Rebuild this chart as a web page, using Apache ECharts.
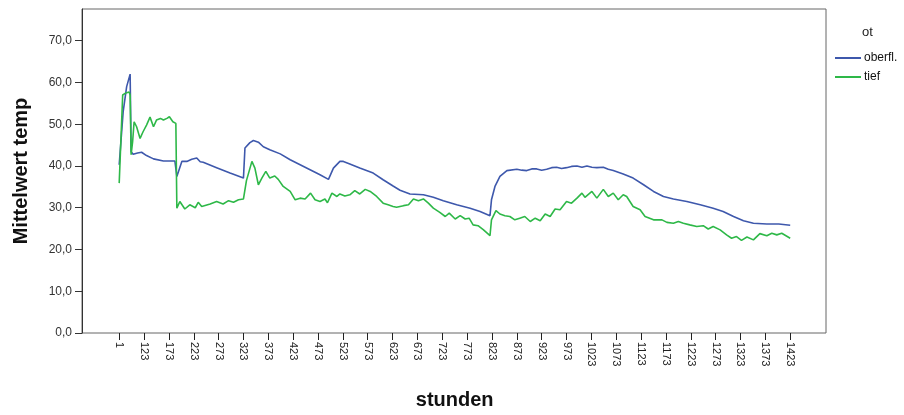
<!DOCTYPE html>
<html>
<head>
<meta charset="utf-8">
<script src="https://cdn.jsdelivr.net/npm/echarts@6/dist/echarts.min.js"></script>
<style>
html,body{margin:0;padding:0;background:#fff;}
#chart{width:904px;height:415px;}
</style>
</head>
<body>
<div id="chart"></div>
<script>
// category hours present in the data (1, then 74..1423)
const firstHour = 1;
const hourStart = 74;
const hourEnd = 1423;
const categories = [String(firstHour)];
for (let h = hourStart; h <= hourEnd; h++) categories.push(String(h));

const seriesNames = ['oberfl.', 'tief'];
const legendTitle = 'ot';
const yTitle = 'Mittelwert temp';
const xTitle = 'stunden';

const blueHours = [1,81,88,95,97,101,110,118,128,142,162,185,189,199,209,219,229,236,242,269,296,323,326,336,343,353,363,376,397,417,437,457,477,494,504,517,524,537,557,584,604,624,638,658,685,705,725,752,779,799,819,822,829,839,853,873,883,893,903,913,923,933,943,953,963,973,983,994,1004,1014,1024,1034,1047,1057,1067,1087,1107,1128,1148,1168,1188,1215,1242,1268,1288,1309,1329,1349,1376,1400,1423];
const blueValues = [40.3,53,59,62,43.4,42.8,43.1,43.3,42.5,41.7,41.2,41.2,37.5,41.1,41.1,41.6,41.9,41.0,40.9,39.6,38.3,37.1,44.3,45.6,46.1,45.7,44.6,43.9,42.9,41.5,40.3,39.1,37.9,36.8,39.5,41.1,41.1,40.5,39.5,38.3,36.7,35.2,34.2,33.3,33.1,32.5,31.7,30.7,29.9,29.1,28.1,31.9,35.1,37.5,38.9,39.2,39.0,38.9,39.3,39.3,39.0,39.2,39.6,39.7,39.4,39.6,39.9,40.0,39.7,40.0,39.7,39.6,39.7,39.2,38.9,38.1,37.1,35.5,33.9,32.7,32.1,31.5,30.7,29.9,29.1,27.9,26.9,26.3,26.1,26.1,25.8];

const greenHours = [1,80,85,93,95,97,100,103,108,115,121,128,135,142,148,156,162,169,174,181,187,189,195,205,215,226,232,239,256,269,282,293,303,313,323,326,329,340,346,353,360,368,376,386,393,403,417,427,437,447,458,467,477,487,492,501,511,517,527,537,547,557,568,578,591,604,614,624,631,645,655,665,675,685,695,705,718,729,737,749,759,769,777,785,795,806,819,822,831,839,849,859,869,879,889,900,910,920,930,940,950,960,973,983,994,1004,1010,1024,1034,1047,1057,1067,1077,1087,1094,1107,1121,1131,1148,1165,1175,1188,1198,1208,1221,1235,1248,1258,1268,1282,1295,1305,1315,1325,1336,1349,1362,1376,1386,1396,1406,1423];
const greenValues = [35.9,57.0,57.4,57.7,57.0,42.7,45.8,50.6,49.4,46.6,48.2,49.8,51.7,49.4,51.0,51.4,51.0,51.4,51.8,50.6,50.2,29.9,31.5,29.7,30.7,30.0,31.3,30.3,30.9,31.5,30.9,31.7,31.3,31.9,32.1,32.0,36.5,41.1,39.5,35.5,37.1,38.7,37.1,37.6,36.8,35.1,33.9,31.9,32.3,32.1,33.5,31.9,31.5,32.1,31.2,33.5,32.7,33.3,32.8,33.1,34.1,33.3,34.4,33.9,32.7,31.1,30.7,30.3,30.1,30.5,30.7,32.1,31.7,32.1,31.1,29.9,28.9,27.9,28.7,27.3,28.1,27.3,27.5,25.9,25.7,24.7,23.3,27.1,29.3,28.5,28.1,27.9,27.1,27.5,27.9,26.7,27.5,26.9,28.5,27.9,29.7,29.5,31.5,31.1,32.3,33.5,32.5,33.9,32.3,34.4,32.7,33.5,31.9,33.1,32.7,30.3,29.5,27.9,27.1,27.1,26.5,26.3,26.7,26.3,25.9,25.5,25.7,24.9,25.5,24.7,23.5,22.7,23.1,22.2,23.0,22.3,23.8,23.3,23.9,23.5,23.9,22.7];

function toPairs(hours, values) {
  return hours.map((h, i) => [categories.indexOf(String(h)), values[i]]);
}

const FONT = '"Liberation Sans", Arial, sans-serif';
const chart = echarts.init(document.getElementById('chart'), null, {renderer: 'canvas'});

chart.setOption({
  animation: false,
  backgroundColor: '#ffffff',
  title: {
    text: legendTitle,
    left: 857, top: 21,
    textStyle: {fontFamily: FONT, fontSize: 13, fontWeight: 'normal', color: '#222'}
  },
  legend: {
    orient: 'vertical',
    left: 830, top: 47,
    itemWidth: 26, itemHeight: 2, itemGap: 7,
    icon: 'rect',
    textStyle: {fontFamily: FONT, fontSize: 12, color: '#111', padding: [0,0,0,-2]},
    data: seriesNames
  },
  grid: [
    {left: 82, right: 78, top: 9, bottom: 82, show: true, borderColor: '#666', borderWidth: 1, backgroundColor: 'transparent'},
    {left: 119.2, right: 113.8, top: 9, bottom: 82}
  ],
  xAxis: [
    {gridIndex: 0, type: 'value', show: false},
    {
      gridIndex: 1, type: 'category', data: categories, boundaryGap: false,
      axisLine: {show: false},
      axisTick: {show: true, interval: 49, length: 7, lineStyle: {color: '#222'}},
      axisLabel: {interval: 49, rotate: -90, fontFamily: FONT, fontSize: 11, color: '#222', margin: 9},
      splitLine: {show: false},
      name: xTitle, nameLocation: 'middle', nameGap: 57,
      nameTextStyle: {fontFamily: FONT, fontSize: 20, fontWeight: 'bold', color: '#111'}
    }
  ],
  yAxis: [
    {gridIndex: 0, type: 'value', show: false},
    {
      gridIndex: 1, type: 'value', min: 0, max: 77.6, interval: 10, offset: 37.2,
      axisLine: {show: true, lineStyle: {color: '#333', width: 1}},
      axisTick: {show: true, length: 7, lineStyle: {color: '#333'}},
      axisLabel: {showMaxLabel: false, fontFamily: FONT, fontSize: 12, color: '#333', margin: 10,
        formatter: v => v.toFixed(1).replace('.', ',')},
      splitLine: {show: false},
      name: yTitle, nameLocation: 'middle', nameGap: 51, nameRotate: 90,
      nameTextStyle: {fontFamily: FONT, fontSize: 20, fontWeight: 'bold', color: '#111'}
    }
  ],
  series: [
    {
      name: seriesNames[0], type: 'line', xAxisIndex: 1, yAxisIndex: 1,
      data: toPairs(blueHours, blueValues), symbol: 'none', smooth: false,
      lineStyle: {color: '#3E58AC', width: 1.6}, itemStyle: {color: '#3E58AC'}
    },
    {
      name: seriesNames[1], type: 'line', xAxisIndex: 1, yAxisIndex: 1,
      data: toPairs(greenHours, greenValues), symbol: 'none', smooth: false,
      lineStyle: {color: '#2EB848', width: 1.6}, itemStyle: {color: '#2EB848'}
    }
  ]
});
</script>
</body>
</html>
